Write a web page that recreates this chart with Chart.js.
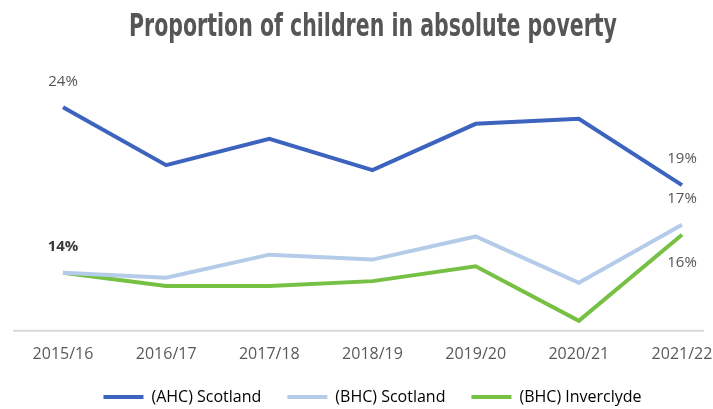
<!DOCTYPE html>
<html>
<head>
<meta charset="utf-8">
<script src="https://cdn.jsdelivr.net/npm/chart.js@4"></script>
<style>
  html, body { margin: 0; padding: 0; background: #fff; }
  #wrap { width: 713px; height: 409px; }
</style>
</head>
<body>
<div id="wrap"><canvas id="chart" width="713" height="409"></canvas></div>
<script>
const years = ['2015/16', '2016/17', '2017/18', '2018/19', '2019/20', '2020/21', '2021/22'];
const ahcScotland = [24, 20.5, 22.1, 20.2, 23, 23.3, 19.3];
const bhcScotland = [14, 13.7, 15.1, 14.8, 16.2, 13.4, 16.9];
const bhcInverclyde = [14, 13.2, 13.2, 13.5, 14.4, 11.1, 16.3];

// which points get a % label: [datasetIndex, pointIndex, position]
const pointLabels = [
    [0, 0, 'above'],
    [1, 0, 'aboveBold'],
    [0, 6, 'above'],
    [1, 6, 'above'],
    [2, 6, 'below'],
];

const titlePlugin = {
    id: 'squeezedTitle',
    afterDraw(chart) {
        const ctx = chart.ctx;
        ctx.save();
        ctx.fillStyle = '#565656';
        ctx.font = 'bold 32px "DejaVu Sans Condensed", "DejaVu Sans"';
        ctx.textAlign = 'center';
        ctx.textBaseline = 'alphabetic';
        ctx.translate(373, 36);
        const text = 'Proportion of children in absolute poverty';
        const w = ctx.measureText(text).width;
        ctx.scale(488 / w, 1);
        ctx.fillText(text, 0, 0);
        ctx.restore();
    }
};

// legend needs wide gaps between items but not the matching tall box
const legendTighten = {
    id: 'legendTighten',
    beforeLayout(chart) {
        const lg = chart.legend;
        if (!lg || lg._tight) return;
        lg._tight = true;
        const fit = lg.fit;
        lg.fit = function () {
            fit.call(this);
            this.height -= 21;
        };
        lg.draw = function () {
            if (!this.options.display) return;
            const ctx = this.ctx;
            ctx.save();
            ctx.translate(0, -15);
            this._draw();
            ctx.restore();
        };
    }
};

// baseline runs wider than the plotted points
const baseline = {
    id: 'baseline',
    beforeDatasetsDraw(chart) {
        const ctx = chart.ctx;
        const y = chart.scales.x.top;
        ctx.save();
        ctx.strokeStyle = '#d9d9d9';
        ctx.lineWidth = 2;
        ctx.beginPath();
        ctx.moveTo(chart.chartArea.left - 50, y);
        ctx.lineTo(chart.chartArea.right + 22, y);
        ctx.stroke();
        ctx.restore();
    }
};

const labelPlugin = {
    id: 'pointLabels',
    afterDatasetsDraw(chart) {
        const ctx = chart.ctx;
        ctx.save();
        ctx.textAlign = 'center';
        ctx.textBaseline = 'middle';
        pointLabels.forEach(([ds, i, pos]) => {
            const pt = chart.getDatasetMeta(ds).data[i];
            const v = chart.data.datasets[ds].data[i];
            ctx.font = (pos === 'aboveBold' ? 'bold ' : '') + '15px "Open Sans", sans-serif';
            ctx.fillStyle = pos === 'aboveBold' ? '#3a3a3a' : '#555';
            const y = pos === 'below' ? pt.y + 28 : pt.y - 26;
            ctx.fillText(Math.round(v) + '%', pt.x, y);
        });
        ctx.restore();
    }
};

new Chart(document.getElementById('chart'), {
    type: 'line',
    data: {
        labels: years,
        datasets: [
            { label: '(AHC) Scotland', data: ahcScotland, borderColor: '#3c64be', backgroundColor: '#3c64be' },
            { label: '(BHC) Scotland', data: bhcScotland, borderColor: '#b4ccea', backgroundColor: '#b4ccea' },
            { label: '(BHC) Inverclyde', data: bhcInverclyde, borderColor: '#76c043', backgroundColor: '#76c043' },
        ],
    },
    options: {
        responsive: false,
        animation: false,
        elements: {
            line: { borderWidth: 4, tension: 0, borderCapStyle: 'butt' },
            point: { radius: 0 },
        },
        layout: { padding: { left: 63, right: 31, top: 99, bottom: 0 } },
        scales: {
            x: {
                offset: false,
                grid: { display: false, drawTicks: false },
                border: { display: false },
                ticks: { color: '#595959', font: { family: 'Open Sans', size: 16 }, padding: 14, maxRotation: 0 },
                afterFit(scale) {
                    // let the end labels overhang the padding, as in the original
                    scale.paddingLeft = 0;
                    scale.paddingRight = 0;
                },
            },
            y: {
                display: false,
                min: 10.5,
                max: 24.5,
            },
        },
        plugins: {
            legend: {
                position: 'bottom',
                labels: {
                    color: '#595959',
                    font: { family: 'Open Sans', size: 16 },
                    boxWidth: 40,
                    boxHeight: 4,
                    padding: 26,
                    generateLabels(chart) {
                        return chart.data.datasets.map((d, i) => ({
                            text: d.label,
                            fillStyle: d.borderColor,
                            strokeStyle: d.borderColor,
                            lineWidth: 0,
                            datasetIndex: i,
                        }));
                    },
                },
            },
            title: { display: false },
            tooltip: { enabled: false },
        },
    },
    plugins: [titlePlugin, legendTighten, baseline, labelPlugin],
});
</script>
</body>
</html>
